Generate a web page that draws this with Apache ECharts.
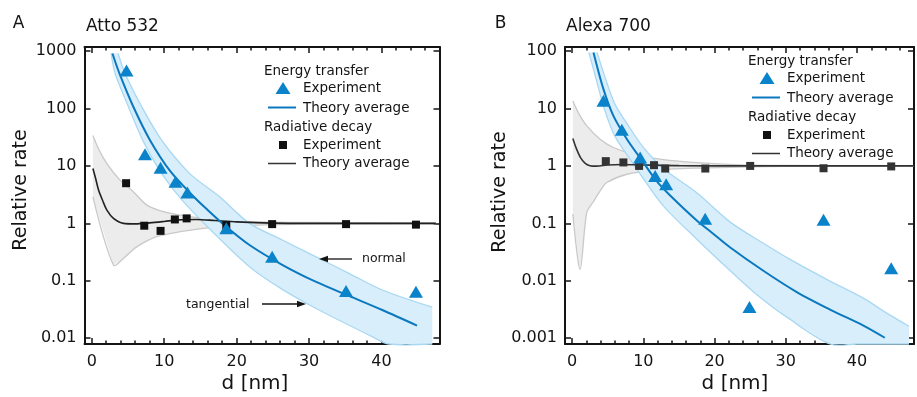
<!DOCTYPE html>
<html>
<head>
<meta charset="utf-8">
<script src="https://cdn.jsdelivr.net/npm/echarts@6/dist/echarts.min.js"></script>
<style>
  html, body {margin: 0; padding: 0; background: #fff;}
  #chart {width: 917px; height: 397px;}
</style>
</head>
<body>
<div id="chart"></div>
<script>
// ---- panel A : Atto 532 ----
const attoEtD = [4.8, 7.35, 9.5, 11.56, 13.2, 18.57, 24.9, 35.1, 44.75];
const attoEtVal = [460, 16, 9.3, 5.3, 3.46, 0.82, 0.263, 0.0665, 0.0646];
const attoRadD = [4.74, 7.25, 9.5, 11.47, 13.1, 18.57, 24.9, 35.1, 44.75];
const attoRadVal = [5.0, 0.91, 0.74, 1.17, 1.22, 0.93, 0.97, 0.97, 0.95];

const attoEtThD = [2.86, 3.82, 5.74, 8.04, 10.78, 13.98, 16.0, 18.57, 21.77, 26.35, 30.9, 35.5, 40.1, 44.9];
const attoEtThVal = [906, 407, 107, 28.1, 8.3, 3.0, 1.71, 0.873, 0.42, 0.188, 0.0964, 0.0545, 0.031, 0.0166];
const attoEtHiD = [3.64, 4.6, 6.9, 9.64, 13.5, 17.65, 21.77, 26.3, 30.9, 35.5, 40.1, 47];
const attoEtHiVal = [912, 407, 107, 28.1, 7.41, 2.9, 1.0, 0.513, 0.263, 0.135, 0.0692, 0.0347];
const attoEtLoD = [2.68, 3.23, 5.06, 7.03, 9.64, 12.5, 16.7, 21.77, 26.3, 30.9, 38.7, 41, 47];
const attoEtLoVal = [912, 407, 107, 28.1, 7.41, 2.51, 0.708, 0.176, 0.0708, 0.0333, 0.0107, 0.0063, 0.0025];

const attoRadThD = [0.16, 0.5, 0.94, 1.5, 2.09, 3.0, 4.37, 6.0, 8, 10, 12, 14.5, 17, 20, 25, 30, 47.5];
const attoRadThVal = [9.04, 6.3, 3.8, 2.5, 1.7, 1.22, 1.0, 0.98, 1.02, 1.08, 1.15, 1.17, 1.12, 1.06, 1.01, 1.0, 1.0];
const attoRadHiD = [0.16, 1.0, 2.09, 3.9, 5.74, 7.6, 10, 12.2, 16.7, 22, 30, 47.5];
const attoRadHiVal = [33.9, 19.1, 11.0, 5.66, 3.55, 2.08, 1.58, 1.39, 1.175, 1.07, 1.035, 1.02];
const attoRadLoD = [0.16, 3.0, 4.37, 6.2, 8.96, 12.2, 16.7, 22, 30, 47.5];
const attoRadLoVal = [2.88, 0.188, 0.245, 0.389, 0.585, 0.715, 0.851, 0.923, 0.966, 0.98];

// ---- panel B : Alexa 700 ----
const alexaEtD = [4.4, 6.98, 9.55, 11.66, 13.2, 18.68, 24.9, 35.3, 44.8];
const alexaEtVal = [13.6, 4.24, 1.4, 0.67, 0.48, 0.12, 0.0035, 0.115, 0.0165];
const alexaRadD = [4.73, 7.2, 9.4, 11.5, 13.07, 18.7, 25, 35.3, 44.8];
const alexaRadVal = [1.21, 1.15, 1.0, 1.03, 0.9, 0.9, 1.0, 0.91, 0.98];

const alexaEtThD = [3.0, 4.4, 5.8, 7.7, 10.0, 11.9, 13.8, 17.5, 19.5, 22.2, 26.9, 31.6, 36.2, 40.9, 43.9];
const alexaEtThVal = [94.6, 21.7, 7.43, 2.92, 1.15, 0.537, 0.302, 0.112, 0.0708, 0.038, 0.0148, 0.0063, 0.00316, 0.00166, 0.00102];
const alexaEtHiD = [3.5, 4.6, 6.0, 8.0, 10.0, 12.8, 17.5, 22.2, 26.9, 30.6, 36, 41, 44, 47.3];
const alexaEtHiVal = [94.6, 35.5, 12.0, 4.8, 2.1, 0.9, 0.34, 0.105, 0.0445, 0.0236, 0.0102, 0.0049, 0.00282, 0.00162];
const alexaEtLoD = [2.35, 3.4, 4.5, 6.0, 8.15, 10.0, 12.83, 17.5, 22.2, 25.9, 30.0, 36.2, 40, 47.3];
const alexaEtLoVal = [94.6, 31.6, 10, 3.3, 1.3, 0.6, 0.2, 0.053, 0.015, 0.0058, 0.0024, 0.000794, 0.000398, 0.000158];

const alexaRadThD = [0.1, 0.6, 1.2, 1.8, 2.5, 3.4, 5, 7, 10, 15, 25, 48];
const alexaRadThVal = [3.0, 2.0, 1.38, 1.12, 1.01, 0.99, 1.04, 1.06, 1.04, 1.01, 1.0, 1.0];
const alexaRadHiD = [0.1, 1.0, 2.06, 3.93, 5.8, 8.6, 12.36, 17, 23.6, 30, 48];
const alexaRadHiVal = [13.5, 7.9, 4.98, 2.92, 2.09, 1.6, 1.31, 1.15, 1.04, 1.02, 1.01];
const alexaRadLoD = [0.1, 1.12, 2.06, 3.0, 4.0, 4.87, 7.7, 12.4, 17, 23.6, 30, 48];
const alexaRadLoVal = [0.145, 0.0158, 0.155, 0.24, 0.38, 0.513, 0.716, 0.851, 0.912, 0.955, 0.98, 0.99];

const xMin = -1, xMax = 48;
const attoYMin = 0.00794, attoYMax = 1175;
const alexaYMin = 0.000794, alexaYMax = 117.5;

const FONT = 'DejaVu Sans';
const INK = '#141414';
const BLUE = '#0a78bf';
const BLUE_MARK = '#0b83ca';
const BAND_FILL = '#d8eefb';
const BAND_EDGE = '#a9d8f2';

const pairs = (xs, ys) => xs.map((x, i) => [x, ys[i]]);

function isDecade(v) {
    const l = Math.log10(v);
    return Math.abs(l - Math.round(l)) < 1e-6;
}

function xAxes(grid) {
    const base = {
        type: 'value', gridIndex: grid, min: xMin, max: xMax,
        splitLine: {show: false},
        axisLine: {onZero: false, lineStyle: {color: INK, width: 2}},
        axisTick: {inside: true, length: 6, lineStyle: {color: INK, width: 1.5}},
        minorTick: {show: true, splitNumber: 5, length: 3.5, lineStyle: {color: INK, width: 1.5}},
    };
    return [
        Object.assign({}, base, {
            position: 'bottom',
            axisLabel: {
                color: INK, fontSize: 16, fontFamily: FONT, margin: 10,
                showMinLabel: false, showMaxLabel: false,
            },
        }),
        Object.assign({}, base, {position: 'top', axisLabel: {show: false}}),
    ];
}

function yAxes(grid, min, max) {
    const base = {
        type: 'log', logBase: 10, gridIndex: grid, min: min, max: max,
        splitLine: {show: false},
        axisLine: {onZero: false, lineStyle: {color: INK, width: 2}},
        axisTick: {inside: true, length: 6, lineStyle: {color: INK, width: 1.5}},
    };
    return [
        Object.assign({}, base, {
            position: 'left',
            axisLabel: {
                color: INK, fontSize: 16, fontFamily: FONT, margin: 8,
                showMinLabel: false, showMaxLabel: false,
                formatter: v => isDecade(v) ? String(Math.pow(10, Math.round(Math.log10(v)))) : '',
            },
        }),
        Object.assign({}, base, {position: 'right', axisLabel: {show: false}}),
    ];
}

// band between two edges, drawn through the axis scales
function band(ax, hiD, hiV, loD, loV, fill, edge, z) {
    return {
        type: 'custom', xAxisIndex: ax, yAxisIndex: ax, z: z, silent: true,
        data: [[hiD[0], hiV[0]]],
        renderItem: function (params, api) {
            const cs = params.coordSys;
            const clamp = p => [
                Math.min(Math.max(p[0], cs.x), cs.x + cs.width),
                Math.min(Math.max(p[1], cs.y), cs.y + cs.height),
            ];
            const hi = hiD.map((d, i) => clamp(api.coord([d, hiV[i]])));
            const lo = loD.map((d, i) => clamp(api.coord([d, loV[i]])));
            return {
                type: 'group',
                children: [
                    {type: 'polygon', shape: {points: hi.concat(lo.slice().reverse())}, style: {fill: fill}},
                    {type: 'polyline', shape: {points: hi, smooth: 0.3}, style: {stroke: edge, lineWidth: 1.3, fill: null}},
                    {type: 'polyline', shape: {points: lo, smooth: 0.3}, style: {stroke: edge, lineWidth: 1.3, fill: null}},
                ],
            };
        },
    };
}

function line(ax, xs, ys, color, width, z) {
    return {
        type: 'line', xAxisIndex: ax, yAxisIndex: ax, z: z, silent: true,
        data: pairs(xs, ys), showSymbol: false, smooth: 0.3,
        lineStyle: {color: color, width: width},
    };
}

function marks(ax, xs, ys, symbol, size, color, z) {
    return {
        type: 'scatter', xAxisIndex: ax, yAxisIndex: ax, z: z, silent: true,
        data: pairs(xs, ys), symbol: symbol, symbolSize: size,
        itemStyle: {color: color, opacity: 1},
    };
}

function txt(x, y, text, size, align, extra) {
    return Object.assign({
        type: 'text', x: x, y: y, z: 50,
        style: {text: text, fill: INK, font: size + 'px "' + FONT + '"', align: align || 'left', verticalAlign: 'middle'},
    }, extra || {});
}

function legend(left, top) {
    const mx = left + 19, tx = left + 39;
    return [
        txt(left, top, 'Energy transfer', 13.5),
        {type: 'polygon', z: 50, shape: {points: [[mx, top + 11], [mx - 7.5, top + 23], [mx + 7.5, top + 23]]}, style: {fill: BLUE_MARK}},
        txt(tx, top + 17.5, 'Experiment', 13.5),
        {type: 'line', z: 50, shape: {x1: left + 4, y1: top + 36.5, x2: left + 32, y2: top + 36.5}, style: {stroke: BLUE, lineWidth: 2}},
        txt(tx, top + 37, 'Theory average', 13.5),
        txt(left, top + 56, 'Radiative decay', 13.5),
        {type: 'rect', z: 50, shape: {x: mx - 4, y: top + 70, width: 8, height: 8}, style: {fill: '#111'}},
        txt(tx, top + 74, 'Experiment', 13.5),
        {type: 'line', z: 50, shape: {x1: left + 4, y1: top + 92.5, x2: left + 32, y2: top + 92.5}, style: {stroke: '#333', lineWidth: 1.5}},
        txt(tx, top + 92.5, 'Theory average', 13.5),
    ];
}

const chart = echarts.init(document.getElementById('chart'), null, {renderer: 'canvas'});

const graphics = [
    txt(18.5, 24, 'A', 17, 'center'),
    txt(86, 27, 'Atto 532', 17),
    txt(500.5, 24, 'B', 17, 'center'),
    txt(566, 27, 'Alexa 700', 17),
    txt(21, 190, 'Relative rate', 19, 'center', {rotation: Math.PI / 2}),
    txt(500, 192, 'Relative rate', 19, 'center', {rotation: Math.PI / 2}),
    txt(255, 384, 'd [nm]', 20, 'center'),
    txt(735, 384, 'd [nm]', 20, 'center'),
    txt(362, 259, 'normal', 12.5),
    {type: 'line', z: 50, shape: {x1: 352, y1: 259, x2: 326, y2: 259}, style: {stroke: INK, lineWidth: 1.3}},
    {type: 'polygon', z: 50, shape: {points: [[319, 259], [328, 255.8], [328, 262.2]]}, style: {fill: INK}},
    txt(186, 305, 'tangential', 12.5),
    {type: 'line', z: 50, shape: {x1: 262, y1: 304, x2: 299, y2: 304}, style: {stroke: INK, lineWidth: 1.3}},
    {type: 'polygon', z: 50, shape: {points: [[306, 304], [297, 300.8], [297, 307.2]]}, style: {fill: INK}},
].concat(legend(264, 71), legend(748, 61));

chart.setOption({
    animation: false,
    backgroundColor: '#fff',
    grid: [
        {left: 84.5, top: 47, width: 355, height: 297},
        {left: 565, top: 47, width: 349, height: 297},
    ],
    xAxis: xAxes(0).concat(xAxes(1)),
    yAxis: yAxes(0, attoYMin, attoYMax).concat(yAxes(1, alexaYMin, alexaYMax)),
    graphic: graphics,
    series: [
        // axes index 0 -> panel A, index 2 -> panel B
        band(0, attoRadHiD, attoRadHiVal, attoRadLoD, attoRadLoVal, '#ececec', '#c9c9c9', 1),
        band(0, attoEtHiD, attoEtHiVal, attoEtLoD, attoEtLoVal, BAND_FILL, BAND_EDGE, 2),
        line(0, attoRadThD, attoRadThVal, '#222', 1.6, 3),
        line(0, attoEtThD, attoEtThVal, BLUE, 2, 4),
        marks(0, attoRadD, attoRadVal, 'rect', 8, '#111', 5),
        marks(0, attoEtD, attoEtVal, 'triangle', [14, 12], BLUE_MARK, 6),

        band(2, alexaRadHiD, alexaRadHiVal, alexaRadLoD, alexaRadLoVal, '#ececec', '#c9c9c9', 1),
        band(2, alexaEtHiD, alexaEtHiVal, alexaEtLoD, alexaEtLoVal, BAND_FILL, BAND_EDGE, 2),
        line(2, alexaRadThD, alexaRadThVal, '#333', 1.6, 3),
        line(2, alexaEtThD, alexaEtThVal, BLUE, 2, 4),
        marks(2, alexaRadD, alexaRadVal, 'rect', 8, '#333', 5),
        marks(2, alexaEtD, alexaEtVal, 'triangle', [14, 12], BLUE_MARK, 6),
    ],
});
</script>
</body>
</html>
